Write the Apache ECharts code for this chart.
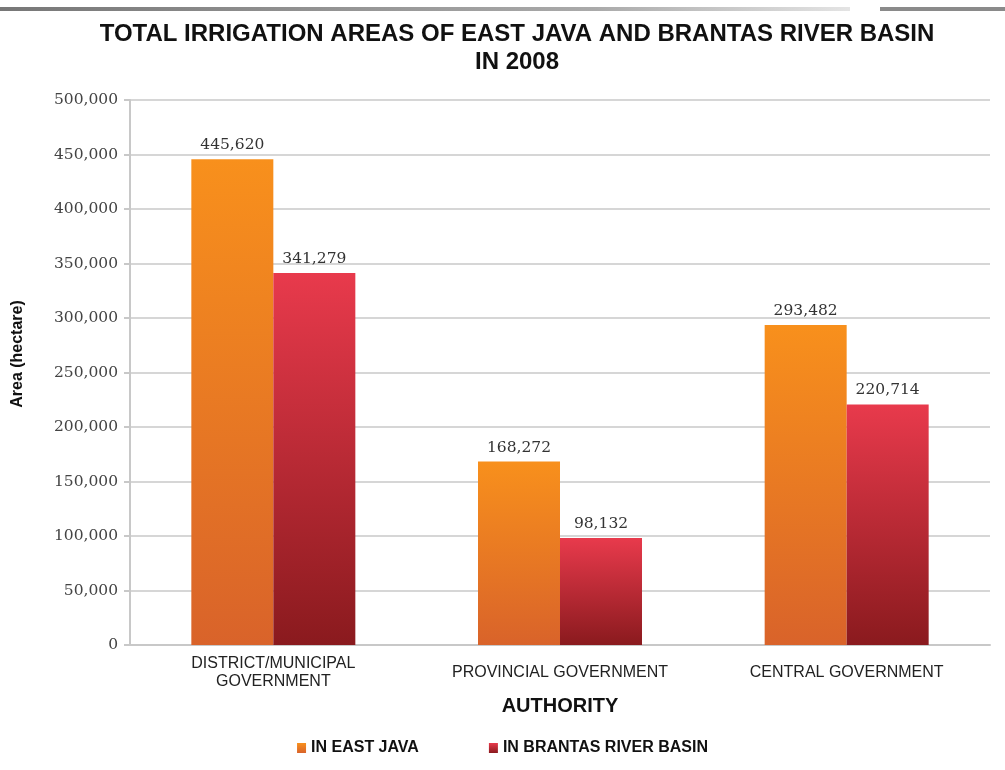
<!DOCTYPE html>
<html>
<head>
<meta charset="utf-8">
<script src="https://cdn.jsdelivr.net/npm/echarts@6/dist/echarts.min.js"></script>
<style>html,body{margin:0;padding:0;background:#fff}#c{width:1005px;height:770px}</style>
</head>
<body>
<div id="c"></div>
<script>
const categories = ['DISTRICT/MUNICIPAL\nGOVERNMENT', 'PROVINCIAL GOVERNMENT', 'CENTRAL GOVERNMENT'];
const eastJava = [445620, 168272, 293482];
const brantas = [341279, 98132, 220714];
const seriesNames = ['IN EAST JAVA', 'IN BRANTAS RIVER BASIN'];
const yTicks = { min: 0, max: 500000, interval: 50000 };

const chart = echarts.init(document.getElementById('c'), null, { renderer: 'canvas' });
const fmt = v => Number(v).toLocaleString('en-US');
const grad = (top, bottom) => new echarts.graphic.LinearGradient(0, 0, 0, 1, [
  { offset: 0, color: top }, { offset: 1, color: bottom }
]);

chart.setOption({
  animation: false,
  backgroundColor: '#ffffff',
  title: {
    text: 'TOTAL IRRIGATION AREAS OF EAST JAVA AND BRANTAS RIVER BASIN\nIN 2008',
    left: 512, top: 15, textAlign: 'center',
    textStyle: { fontFamily: 'Liberation Sans', fontWeight: 'bold', fontSize: 24, color: '#111', lineHeight: 28 }
  },
  graphic: [
    { type: 'rect', x: 0, y: 7, shape: { width: 850, height: 4 },
      style: { fill: new echarts.graphic.LinearGradient(0, 0, 1, 0, [{offset:0,color:'#777'},{offset:0.7,color:'#aaa'},{offset:1,color:'#e4e4e4'}]) } },
    { type: 'rect', x: 880, y: 7, shape: { width: 125, height: 4 },
      style: { fill: '#8a8a8a' } },
    { type: 'text', x: 18, y: 354, rotation: Math.PI / 2,
      style: { text: 'Area (hectare)', font: 'bold 16px "Liberation Sans"', fill: '#111', align: 'center', verticalAlign: 'middle' } }
  ],
  legend: {
    data: seriesNames,
    bottom: 9, left: 'center',
    itemWidth: 9, itemHeight: 10, itemGap: 70,
    icon: 'rect',
    textStyle: { fontFamily: 'Liberation Sans', fontWeight: 'bold', fontSize: 16, color: '#111' }
  },
  grid: { left: 130, right: 15, top: 100, bottom: 125 },
  xAxis: {
    type: 'category',
    data: categories,
    name: 'AUTHORITY',
    nameLocation: 'middle',
    nameGap: 51,
    nameTextStyle: { fontFamily: 'Liberation Sans', fontWeight: 'bold', fontSize: 20, color: '#111' },
    axisLine: { lineStyle: { color: '#c8c8c8', width: 2 } },
    axisTick: { show: false },
    axisLabel: { fontFamily: 'Liberation Sans', fontSize: 16, color: '#222', margin: 28, verticalAlign: 'middle', lineHeight: 18 }
  },
  yAxis: {
    type: 'value',
    min: yTicks.min, max: yTicks.max, interval: yTicks.interval,
    axisLine: { show: true, lineStyle: { color: '#c8c8c8', width: 2 } },
    axisTick: { show: true, length: 6, lineStyle: { color: '#c8c8c8', width: 2 } },
    splitLine: { lineStyle: { color: '#d6d6d6', width: 2 } },
    axisLabel: { fontFamily: 'DejaVu Serif', fontSize: 15.5, color: '#444', margin: 12, formatter: fmt }
  },
  series: [
    {
      name: seriesNames[0], type: 'bar', data: eastJava,
      barWidth: 82, barGap: '0%',
      itemStyle: { color: grad('#F8901C', '#D9632A') },
      label: { show: true, position: 'top', distance: 6, formatter: p => fmt(p.value),
        fontFamily: 'DejaVu Serif', fontSize: 15.5, color: '#333' }
    },
    {
      name: seriesNames[1], type: 'bar', data: brantas,
      barWidth: 82,
      itemStyle: { color: grad('#E83A4C', '#8A1A1E') },
      label: { show: true, position: 'top', distance: 6, formatter: p => fmt(p.value),
        fontFamily: 'DejaVu Serif', fontSize: 15.5, color: '#333' }
    }
  ]
});
</script>
</body>
</html>
